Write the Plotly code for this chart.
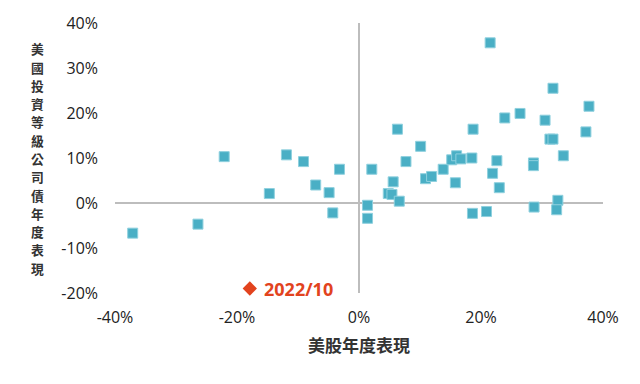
import plotly.graph_objects as go

stock_returns = [-37.1, -26.4, -22.1, -14.7, -11.9, -9.1, -7.1, -4.9, -4.3, -3.2,
                 1.4, 1.4, 2.1, 4.8, 5.4, 5.6, 6.3, 6.6, 7.7, 10.1,
                 10.9, 11.9, 13.8, 15.2, 16.0, 16.7, 15.8, 18.5, 18.7, 18.6,
                 20.9, 21.5, 21.9, 22.6, 23.0, 23.9, 26.4, 28.6, 28.6, 28.7,
                 30.5, 31.3, 31.8, 31.8, 32.6, 32.4, 33.5, 37.2, 37.7]
bond_returns = [-6.7, -4.7, 10.3, 2.1, 10.7, 9.2, 4.0, 2.3, -2.2, 7.5,
                -0.5, -3.4, 7.5, 2.1, 1.9, 4.7, 16.4, 0.4, 9.2, 12.6,
                5.4, 5.9, 7.5, 9.6, 10.5, 9.8, 4.5, 10.0, 16.4, -2.3,
                -1.9, 35.6, 6.6, 9.4, 3.4, 18.9, 19.9, 8.9, 8.3, -0.9,
                18.4, 14.2, 14.2, 25.5, 0.6, -1.5, 10.5, 15.8, 21.5]

highlight_label = "2022/10"
highlight_x = [-17.9]
highlight_y = [-19.0]

x_ticks = [-40, -20, 0, 20, 40]
y_ticks = [-20, -10, 0, 10, 20, 30, 40]

x_title = "美股年度表現"
y_title = "美國投資等級公司債年度表現"

cjk = "Noto Sans CJK TC, sans-serif"
latin = "Open Sans, Noto Sans CJK TC, sans-serif"

fig = go.Figure()
fig.add_trace(go.Scatter(
    x=stock_returns, y=bond_returns, mode="markers",
    marker=dict(symbol="square", size=10, color="#4aafc5",
                line=dict(color="#8fd0de", width=1)),
    showlegend=False, hoverinfo="skip",
))
fig.add_trace(go.Scatter(
    x=highlight_x, y=highlight_y, mode="markers",
    marker=dict(symbol="diamond", size=11, color="#e2431e"),
    showlegend=False, hoverinfo="skip", cliponaxis=False,
))
fig.add_annotation(
    x=highlight_x[0], y=highlight_y[0], xref="x", yref="y",
    text=highlight_label, xanchor="left", yanchor="middle", xshift=12,
    showarrow=False,
    font=dict(color="#e2431e", size=18, family=latin, weight="bold"),
)

fig.update_layout(
    width=640, height=384,
    margin=dict(l=115, r=37, t=18, b=91),
    paper_bgcolor="white", plot_bgcolor="white",
    font=dict(family=latin, size=16, color="#222"),
    xaxis=dict(range=[-40, 40], tickvals=x_ticks,
               ticktext=[f"{v}%" for v in x_ticks],
               showgrid=False, zeroline=True, zerolinecolor="#bdbdbd",
               zerolinewidth=1.5, showline=False, ticks="",
               ticklabelstandoff=13, fixedrange=True),
    yaxis=dict(range=[-20, 40], tickvals=y_ticks,
               ticktext=[f"{v}%" for v in y_ticks],
               showgrid=False, zeroline=True, zerolinecolor="#bdbdbd",
               zerolinewidth=1.5, showline=False, ticks="",
               ticklabelstandoff=16, fixedrange=True),
)

plot_top, plot_h, plot_l, plot_w = 18, 275, 115, 488
# vertical stacked y-axis title, one character per annotation
step = 18.6
first = 156 - step * (len(y_title) - 1) / 2
for i, ch in enumerate(y_title):
    py = first + i * step
    fig.add_annotation(
        text=ch, xref="paper", yref="paper",
        x=(37 - plot_l) / plot_w, y=(plot_top + plot_h - py) / plot_h,
        xanchor="center", yanchor="middle", showarrow=False, borderpad=0,
        font=dict(size=12.8, color="#333", family=cjk, weight="bold"),
    )
fig.add_annotation(
    text=x_title, xref="paper", yref="paper",
    x=(359 - plot_l) / plot_w, y=-(345 - plot_top - plot_h) / plot_h,
    xanchor="center", yanchor="middle", showarrow=False,
    font=dict(size=17, color="#333", family=cjk, weight="bold"),
)

fig.write_html("out.html")
